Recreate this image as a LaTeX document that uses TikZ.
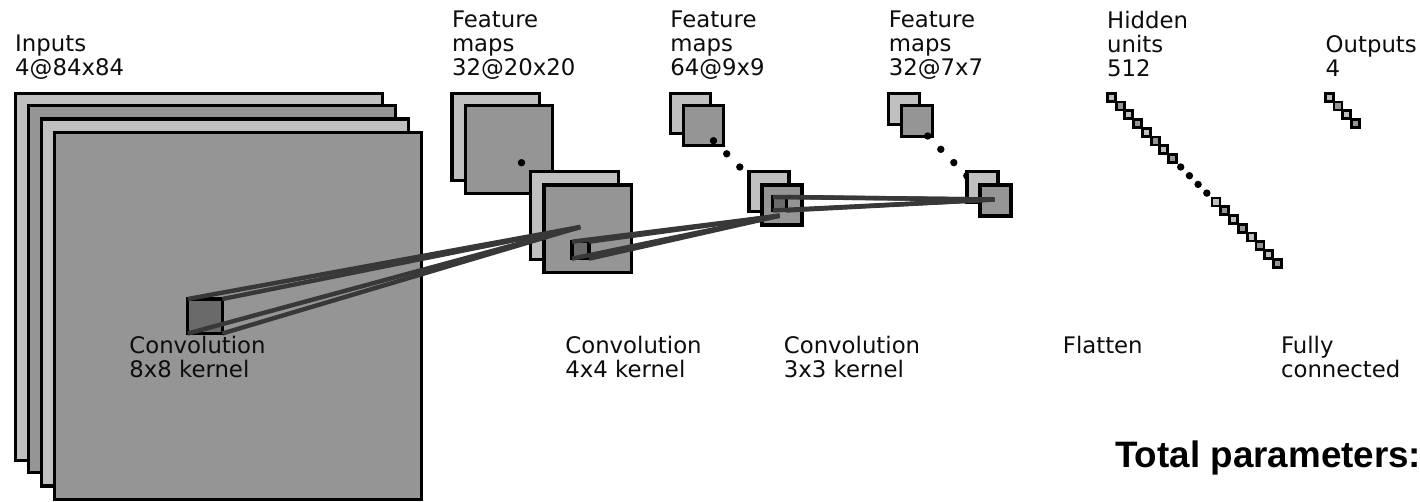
\documentclass[tikz,border=0pt]{standalone}
\usepackage{fontspec}
\setmainfont{DejaVu Sans}
\newfontfamily\totalfont{Liberation Sans}
\usepackage{tikz}
\usetikzlibrary{positioning}
\definecolor{lgray}{HTML}{C0C0C0}
\definecolor{mgray}{HTML}{959595}
\definecolor{pgray}{HTML}{6A6A6A}
\definecolor{kgray}{HTML}{383838}

\begin{document}
\begin{tikzpicture}[
    x=1pt, y=-1pt,
    layer/.style={rectangle, draw=black, line width=3.1pt, inner sep=0pt, outer sep=0pt, anchor=north west, minimum size=#1},
    lite/.style={layer=#1, fill=lgray},
    dark/.style={layer=#1, fill=mgray},
    patch/.style={layer=#1, fill=pgray},
    cell/.style={rectangle, draw=black, line width=2.8pt, inner sep=0pt, minimum size=8pt},
    blob/.style={circle, fill=black, inner sep=0pt, minimum size=7.4pt},
    lab/.style={font=\fontsize{22.8}{24}\selectfont, align=left, inner sep=0pt, anchor=north west, text=black!95},
    arr/.style={draw=kgray, line width=4.4pt}
]
\useasboundingbox (0,0) rectangle (1420,501);

% inputs
\node[lite=367pt] (in1) at (15.3,93.3) {};
\node[dark=367pt] (in2) at (28.6,105.8) {};
\node[lite=367pt] (in3) at (41.9,119) {};
\node[dark=367pt] (in4) at (54.5,132.2) {};

% first feature maps
\node[lite=87.5pt] (fa1) at (452,93.3) {};
\node[dark=87.5pt] (fa2) at (465.3,105.8) {};
\node[blob] (dota) at (521.5,162.7) {};
\node[lite=87.5pt] (fa3) at (530.7,171.8) {};
\node[dark=87.5pt] (fa4) at (544,185) {};

% second feature maps
\node[lite=40pt] (fb1) at (670.3,93.3) {};
\node[dark=40pt] (fb2) at (683.6,105.8) {};
\foreach \n/\px/\py in {1/713.5/140.7, 2/726.7/153.8, 3/739.8/167}
    \node[blob] (dotb\n) at (\px,\py) {};
\node[lite=40pt] (fb3) at (749,171.8) {};
\node[dark=40pt] (fb4) at (762,185) {};

% third feature maps
\node[lite=31pt] (fc1) at (888.6,93.3) {};
\node[dark=31pt] (fc2) at (901.3,105.8) {};
\foreach \n/\px/\py in {1/927.7/136, 2/940.8/149.3, 3/953.8/162.6, 4/966.8/175.8}
    \node[blob] (dotc\n) at (\px,\py) {};
\node[lite=31pt] (fc3) at (967,171.8) {};
\node[dark=31pt] (fc4) at (980,185) {};

% hidden units
\foreach \n/\px/\py/\shade in {1/1111.3/97.3/lgray, 2/1120.1/106/mgray, 3/1128.8/114.8/lgray, 4/1137.6/123.5/mgray,
    5/1146.3/132.3/lgray, 6/1155.1/141/mgray, 7/1163.8/149.8/lgray, 8/1172.5/158.6/mgray,
    9/1216/202/lgray, 10/1224.8/210.8/mgray, 11/1233.6/219.5/lgray, 12/1242.4/228.3/mgray,
    13/1251.2/237/lgray, 14/1260/245.8/mgray, 15/1268.8/254.6/lgray, 16/1277.6/263.4/mgray}
    \node[cell, fill=\shade] (hid\n) at (\px,\py) {};
\foreach \n/\px/\py in {1/1180.7/167, 2/1189.4/175.7, 3/1198.1/184.4, 4/1206.8/193.1}
    \node[blob] (doth\n) at (\px,\py) {};

% outputs
\foreach \n/\px/\py/\shade in {1/1329.2/97.3/lgray, 2/1338/106/mgray, 3/1346.8/114.8/lgray, 4/1355.6/123.5/mgray}
    \node[cell, fill=\shade] (out\n) at (\px,\py) {};

% kernels
\node[patch=34.5pt] (ka) at (187.8,299) {};
\node[patch=17pt] (kb) at (572,241.7) {};
\node[patch=13.5pt] (kc) at (772.8,197) {};
\coordinate (ta) at (580.3,227);
\coordinate (tb) at (779.5,215.7);
\coordinate (tc) at (994.5,199.5);

\foreach \from/\to in {ka/ta, kb/tb, kc/tc} {
    \draw[arr] (\from.north west) -- (\to);
    \draw[arr] (\from.north east) -- (\to);
    \draw[arr] (\from.south west) -- (\to);
    \draw[arr] (\from.south east) -- (\to);
}

% labels
\node[lab] (tin) at (15,35) {Inputs\\4@84x84};
\node[lab] (tfa) at (451.8,11) {Feature\\maps\\32@20x20};
\node[lab] (tfb) at (670.2,11) {Feature\\maps\\64@9x9};
\node[lab] (tfc) at (888.7,11) {Feature\\maps\\32@7x7};
\node[lab] (thid) at (1107,11) {Hidden\\units\\512};
\node[lab] (tout) at (1325.5,35) {Outputs\\4};
\node[lab] (cva) at (129.2,336) {Convolution\\8x8 kernel};
\node[lab] (cvb) at (565.2,336) {Convolution\\4x4 kernel};
\node[lab] (cvc) at (783.7,336) {Convolution\\3x3 kernel};
\node[lab] (flat) at (1062.7,336) {Flatten};
\node[lab] (full) at (1280.8,336) {Fully\\connected};
\node[inner sep=0pt, anchor=north west, font=\fontsize{36.8}{40}\selectfont\totalfont\bfseries] (total) at (1115,441) {Total parameters:};
\end{tikzpicture}
\end{document}
